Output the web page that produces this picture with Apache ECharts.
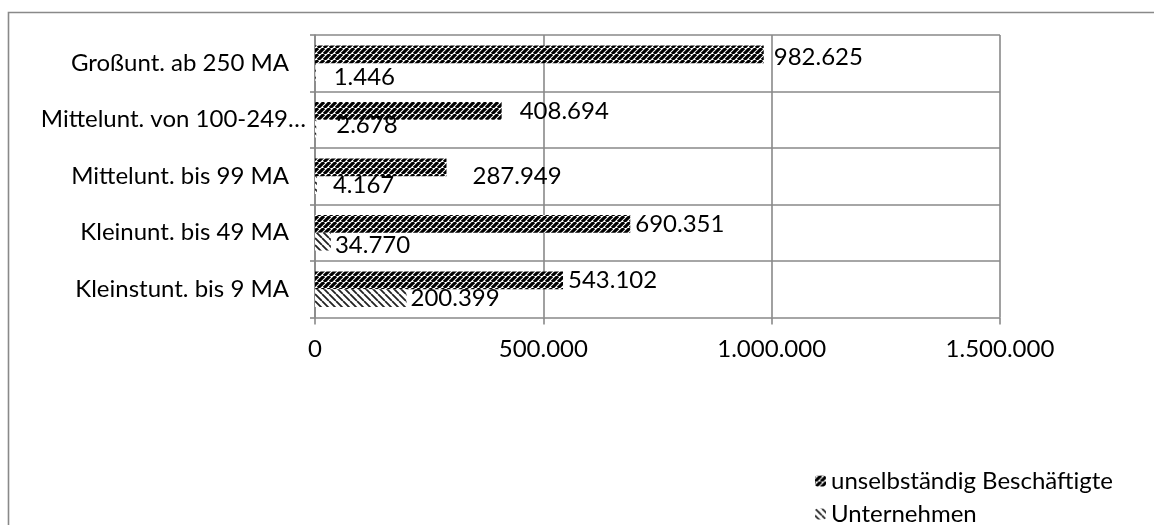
<!DOCTYPE html>
<html>
<head>
<meta charset="utf-8">
<script src="https://cdn.jsdelivr.net/npm/echarts@6/dist/echarts.min.js"></script>
<style>
html,body{margin:0;padding:0;background:#fff;}
#chart{width:1154px;height:525px;}
</style>
</head>
<body>
<div id="chart"></div>
<script>
// ---- data ----
var categories = ['Kleinstunt. bis 9 MA', 'Kleinunt. bis 49 MA', 'Mittelunt. bis 99 MA', 'Mittelunt. von 100-249…', 'Großunt. ab 250 MA'];
var beschaeftigte = [543102, 690351, 287949, 408694, 982625];
var unternehmen = [200399, 34770, 4167, 2678, 1446];
var seriesNames = ['unselbständig Beschäftigte', 'Unternehmen'];
var xTicks = [0, 500000, 1000000, 1500000];

// label nudges (Excel-like manual placement)
var beschOffsets = [[0, 0], [0, 0], [21, 9], [13, 0], [5, 3]];
var untOffsets = [[0, 0], [0, 4], [12, 0], [16, -3], [14, 5]];

function fmt(v) { return String(v).replace(/\B(?=(\d{3})+(?!\d))/g, '.'); }

function makePattern(dir, lineW, color, size) {
  var c = document.createElement('canvas');
  c.width = size; c.height = size;
  var ctx = c.getContext('2d');
  ctx.fillStyle = '#fff';
  ctx.fillRect(0, 0, size, size);
  ctx.strokeStyle = color;
  ctx.lineWidth = lineW;
  ctx.beginPath();
  for (var k = -1; k <= 1; k++) {
    if (dir === '/') {
      ctx.moveTo(k * size, size);
      ctx.lineTo(k * size + size, 0);
    } else {
      ctx.moveTo(k * size, 0);
      ctx.lineTo(k * size + size, size);
    }
  }
  ctx.stroke();
  return c;
}
var patA = makePattern('/', 3.2, '#000', 6);
var patB = makePattern('\\', 1.8, '#222', 7);

var FONT = 'Lato';
var FS = 24;
var GRID = '#898989';

function legendFor(name, top) {
  return {
    orient: 'vertical',
    left: 815,
    top: top,
    padding: 0,
    itemWidth: 11,
    itemHeight: 11,
    data: [name],
    textStyle: { fontFamily: FONT, fontSize: FS, color: '#000' }
  };
}

var chart = echarts.init(document.getElementById('chart'));
chart.setOption({
  animation: false,
  backgroundColor: '#fff',
  textStyle: { fontFamily: FONT },
  graphic: [{
    type: 'rect',
    shape: { x: 8.5, y: 12.5, width: 1300, height: 700 },
    style: { fill: 'none', stroke: GRID, lineWidth: 1.6 },
    silent: true
  }],
  grid: { left: 315, right: 154, top: 35, bottom: 207.5 },
  legend: [legendFor(seriesNames[0], 469), legendFor(seriesNames[1], 502)],
  xAxis: {
    type: 'value',
    min: 0,
    max: 1500000,
    interval: 500000,
    axisLine: { show: false },
    axisTick: { show: true, length: 7, lineStyle: { color: GRID, width: 1.6 } },
    splitLine: { show: true, lineStyle: { color: GRID, width: 1.6 } },
    axisLabel: {
      margin: 20,
      fontFamily: FONT, fontSize: FS, color: '#000',
      formatter: function (v) { return fmt(v); }
    }
  },
  yAxis: {
    type: 'category',
    data: categories,
    axisLine: { show: true, lineStyle: { color: GRID, width: 1.6 } },
    axisTick: { show: true, length: 5, lineStyle: { color: GRID, width: 1.6 } },
    splitLine: { show: true, lineStyle: { color: GRID, width: 1.6 } },
    axisLabel: {
      margin: 9,
      fontFamily: FONT, fontSize: FS, color: '#000',
      formatter: function (v) {
        return v.indexOf('…') >= 0 ? '{l|' + v + '}' : '{n|' + v + '}';
      },
      rich: {
        n: { fontFamily: FONT, fontSize: FS, color: '#000', padding: [0, 17, 0, 0] },
        l: { fontFamily: FONT, fontSize: FS, color: '#000' }
      }
    }
  },
  series: [
    {
      name: seriesNames[0],
      type: 'bar',
      barGap: '0%',
      barCategoryGap: '37%',
      itemStyle: { color: { image: patA, repeat: 'repeat' } },
      data: beschaeftigte.map(function (v, i) {
        return { value: v, label: { offset: beschOffsets[i] } };
      }),
      label: {
        show: true, position: 'right', distance: 5,
        fontFamily: FONT, fontSize: FS, color: '#000',
        formatter: function (p) { return fmt(p.value); }
      }
    },
    {
      name: seriesNames[1],
      type: 'bar',
      barGap: '0%',
      barCategoryGap: '37%',
      itemStyle: { color: { image: patB, repeat: 'repeat' } },
      data: unternehmen.map(function (v, i) {
        return { value: v, label: { offset: untOffsets[i] } };
      }),
      label: {
        show: true, position: 'right', distance: 4,
        fontFamily: FONT, fontSize: FS, color: '#000',
        formatter: function (p) { return fmt(p.value); }
      }
    }
  ]
});
</script>
</body>
</html>
